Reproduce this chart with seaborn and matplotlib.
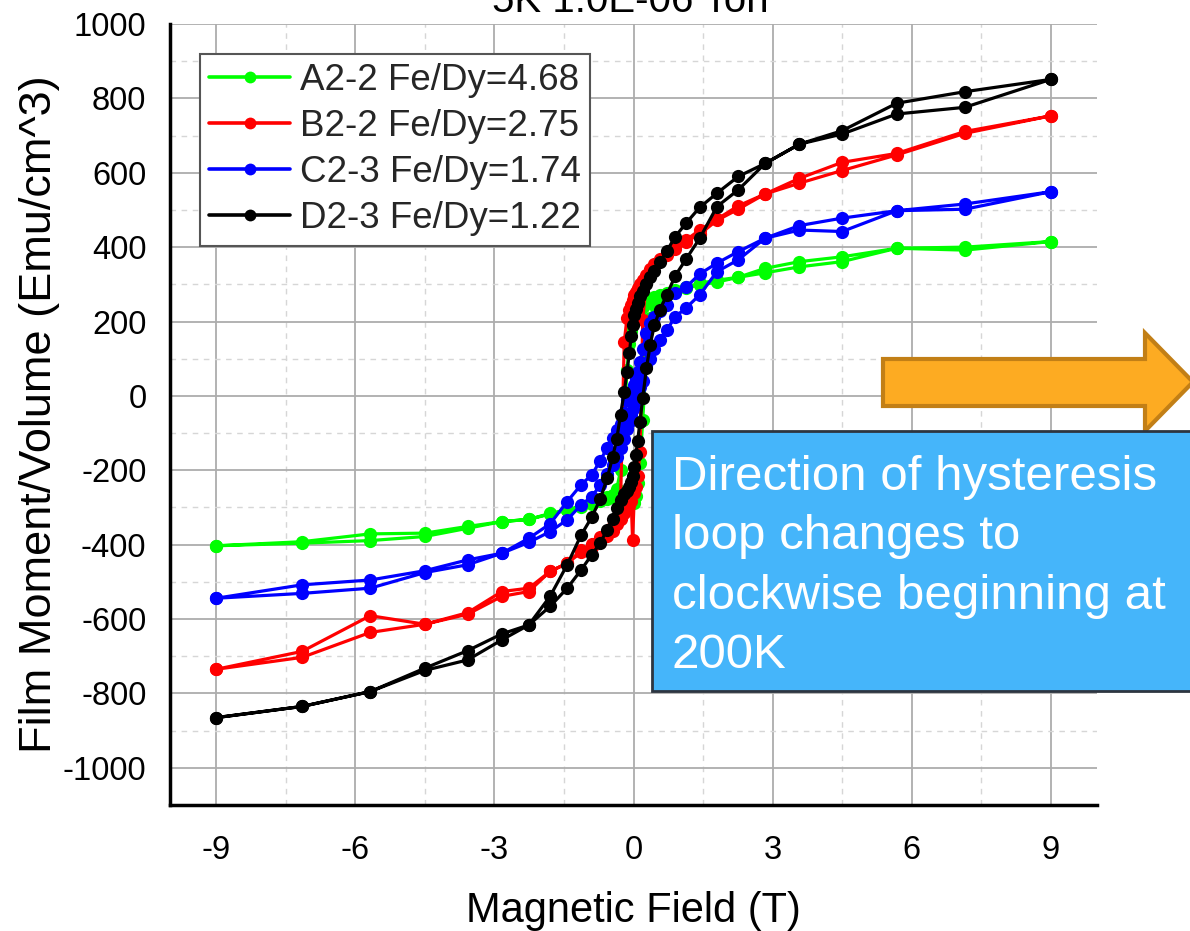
import matplotlib
matplotlib.use("Agg")
import matplotlib.pyplot as plt
from matplotlib.patches import Polygon, Rectangle
from matplotlib.ticker import MultipleLocator
import pandas as pd
import seaborn as sns

sns.set_theme(style="white")
plt.rcParams["font.family"] = ["Liberation Sans", "DejaVu Sans"]
plt.rcParams["axes.unicode_minus"] = False

# Field sweep: +9 T down to -9 T, then back up to +9 T
FIELD_DOWN = [9, 7.15, 5.68, 4.5, 3.58, 2.84, 2.26, 1.8, 1.43, 1.13, 0.9, 0.72,
              0.57, 0.45, 0.36, 0.28, 0.2, 0.14, 0.09, 0.05, 0.02,
              -0.02, -0.05, -0.09, -0.14, -0.2, -0.28, -0.36, -0.45, -0.57,
              -0.72, -0.9, -1.13, -1.43, -1.8, -2.26, -2.84, -3.58, -4.5,
              -5.68, -7.15, -9]
FIELD_UP = [-9, -7.15, -5.68, -4.5, -3.58, -2.84, -2.26, -1.8, -1.43, -1.13,
            -0.9, -0.72, -0.57, -0.45, -0.36, -0.28, -0.2, -0.14, -0.09,
            -0.05, -0.02, 0.02, 0.05, 0.09, 0.14, 0.2, 0.28, 0.36, 0.45, 0.57,
            0.72, 0.9, 1.13, 1.43, 1.8, 2.26, 2.84, 3.58, 4.5, 5.68, 7.15, 9]

SAMPLES = ["A2-2 Fe/Dy=4.68", "B2-2 Fe/Dy=2.75", "C2-3 Fe/Dy=1.74", "D2-3 Fe/Dy=1.22"]
COLORS = ["#00FF00", "#FF0000", "#0000FF", "#000000"]

# Moment/volume (emu/cm^3) on the down sweep
A_DOWN = [415, 400, 397, 374, 361, 343, 319, 311, 303, 293, 285, 278, 271, 265,
          258, 250, 240, 230, 222, 213, 205, 192, 175, 140, 70, -60, -200,
          -250, -266, -272, -280, -289, -296, -306, -316, -332, -338, -351,
          -369, -371, -392, -403]
B_DOWN = [753, 711, 652, 628, 585, 543, 511, 475, 446, 419, 401, 385, 368, 355,
          340, 326, 312, 300, 290, 280, 270, 258, 245, 232, 210, 145, -290,
          -330, -350, -365, -380, -398, -415, -450, -472, -517, -526, -583,
          -614, -591, -687, -735]
C_DOWN = [549, 516, 498, 478, 458, 424, 388, 357, 328, 292, 278, 245, 228, 212,
          195, 170, 125, 90, 65, 45, 30, 15, 5, -5, -12, -45, -75, -92, -112,
          -140, -175, -212, -239, -284, -344, -383, -423, -441, -470, -495,
          -508, -544]
D_DOWN = [851, 818, 787, 713, 677, 625, 590, 545, 507, 464, 428, 390, 360, 335,
          320, 300, 283, 268, 250, 235, 218, 190, 160, 115, 65, 10, -50, -115,
          -165, -222, -278, -326, -374, -454, -539, -616, -640, -685, -732,
          -795, -835, -865]

# Moment/volume (emu/cm^3) on the up sweep
A_UP = [-403, -396, -389, -378, -356, -338, -332, -318, -308, -298, -290, -283,
        -277, -272, -268, -265, -263, -262, -265, -272, -282, -288, -270, -235,
        -180, -65, 110, 210, 245, 262, 272, 280, 290, 298, 306, 319, 331, 347,
        361, 397, 392, 415]
B_UP = [-735, -703, -636, -614, -587, -539, -526, -472, -450, -421, -405, -392,
        -378, -362, -345, -330, -315, -302, -292, -282, -387, -262, -245, -215,
        -150, 205, 318, 333, 348, 362, 378, 396, 415, 435, 472, 502, 543, 572,
        606, 648, 706, 753]
C_UP = [-544, -531, -517, -475, -454, -423, -394, -365, -333, -293, -271, -240,
        -210, -185, -165, -140, -115, -90, -70, -50, -35, -20, -5, 10, 25, 40,
        80, 100, 125, 150, 177, 213, 236, 272, 334, 366, 424, 446, 442, 498,
        502, 549]
D_UP = [-865, -835, -795, -738, -710, -656, -616, -566, -517, -468, -427, -396,
        -360, -330, -302, -280, -265, -255, -245, -232, -215, -190, -160, -120,
        -70, -5, 75, 137, 190, 232, 272, 323, 367, 424, 509, 554, 625, 677,
        704, 758, 776, 851]

DOWN = [A_DOWN, B_DOWN, C_DOWN, D_DOWN]
UP = [A_UP, B_UP, C_UP, D_UP]

frames = []
for name, down, up in zip(SAMPLES, DOWN, UP):
    fields = FIELD_DOWN + FIELD_UP
    frames.append(pd.DataFrame({
        "field": fields,
        "moment": down + up,
        "sample": name,
        "step": range(len(fields)),
    }))
loops = pd.concat(frames, ignore_index=True)

W, H = 1190, 931
fig = plt.figure(figsize=(W / 100, H / 100), dpi=100)
ax = fig.add_axes([170 / W, 1 - 805 / H, 927 / W, 781 / H])

sns.lineplot(data=loops, x="field", y="moment", hue="sample",
             hue_order=SAMPLES, palette=COLORS, sort=False, estimator=None,
             marker="o", markersize=9.5, markeredgewidth=0, linewidth=2.3,
             ax=ax, legend=True)

ax.set_xlim(-10, 10)
ax.set_ylim(-1100, 1000)
ax.xaxis.set_major_locator(MultipleLocator(3))
ax.xaxis.set_minor_locator(MultipleLocator(1.5))
ax.yaxis.set_major_locator(MultipleLocator(200))
ax.yaxis.set_minor_locator(MultipleLocator(100))

ax.set_axisbelow(True)
ax.grid(which="major", color="#ADADAD", linewidth=1.3, linestyle="-")
ax.grid(which="minor", color="#D6D6D6", linewidth=1.0, linestyle=(0, (4, 4)))

for side in ("top", "right"):
    ax.spines[side].set_visible(False)
for side in ("left", "bottom"):
    ax.spines[side].set_linewidth(2.5)
    ax.spines[side].set_color("black")

ax.tick_params(axis="both", which="both", direction="out", colors="black",
               width=1.8, labelsize=23.5)
ax.tick_params(axis="x", which="major", length=11.5, pad=10)
ax.tick_params(axis="x", which="minor", length=5.8)
ax.tick_params(axis="y", which="major", length=8, pad=9)
ax.tick_params(axis="y", which="minor", length=5)

ax.set_xlabel("Magnetic Field (T)", fontsize=30, labelpad=18, color="black")
ax.set_ylabel("Film Moment/Volume (Emu/cm^3)", fontsize=32.5, labelpad=2,
              color="black")

handles, labels = ax.get_legend_handles_labels()
for h in handles:
    h.set_markersize(8.5)
    h.set_linewidth(2.6)
leg = ax.legend(handles, labels, loc="upper left",
                bbox_to_anchor=(30 / 927, (805 - 54) / 781), borderaxespad=0,
                frameon=True, fancybox=False, edgecolor="#555555",
                framealpha=1, fontsize=26.5, handlelength=2.2,
                handletextpad=0.27, labelspacing=0.3, borderpad=0.25)
leg.get_frame().set_linewidth(1.5)

fig.text(633 / W, 1 - 12 / H, "5K 1.0E-06 Torr", ha="center", va="baseline",
         fontsize=29, color="black")

# Orange arrow pointing to the right
arrow_px = [(883, 359), (1145, 359), (1145, 333), (1193, 382), (1145, 431),
            (1145, 406), (883, 406)]
fig.add_artist(Polygon([(x / W, 1 - y / H) for x, y in arrow_px],
                       closed=True, transform=fig.transFigure,
                       facecolor="#FDAB22", edgecolor="#C27F16",
                       linewidth=3, zorder=5))

# Blue note box
fig.add_artist(Rectangle((652 / W, 1 - 691 / H), (1200 - 652) / W, 260 / H,
                         transform=fig.transFigure, facecolor="#45B5FA",
                         edgecolor="#2D3540", linewidth=2, zorder=6))
note_lines = ["Direction of hysteresis", "loop changes to",
              "clockwise beginning at", "200K"]
for i, line in enumerate(note_lines):
    fig.text(672 / W, 1 - (490 + 59.3 * i) / H, line, ha="left",
             va="baseline", fontsize=35.5, color="white", zorder=7)

fig.savefig("out.png", dpi=100)
